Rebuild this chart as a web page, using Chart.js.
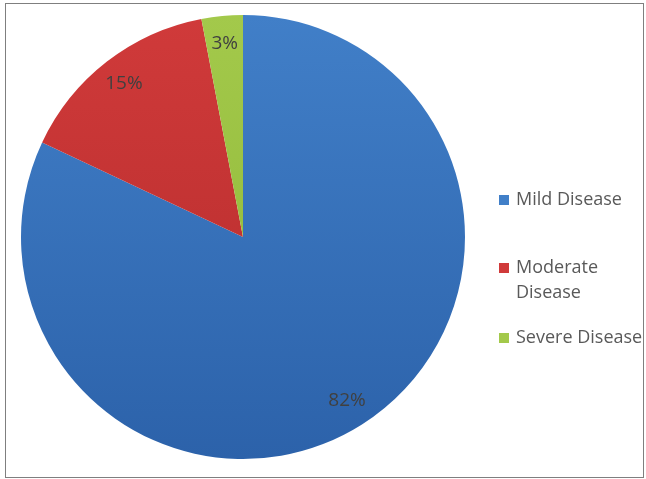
<!DOCTYPE html>
<html>
<head>
<meta charset="utf-8">
<script src="https://cdn.jsdelivr.net/npm/chart.js@4.4.1/dist/chart.umd.min.js"></script>
<style>
  html, body { margin: 0; padding: 0; background: #fff; }
  #wrap { position: relative; width: 646px; height: 479px; }
  #frame {
    position: absolute; left: 5px; top: 3px; width: 637px; height: 473px;
    border: 1.5px solid #7f7f7f; pointer-events: none;
  }
</style>
</head>
<body>
<div id="wrap">
  <canvas id="pie" width="646" height="479"></canvas>
  <div id="frame"></div>
</div>
<script>
// datos del grafico
const categorias = ["Mild Disease", "Moderate Disease", "Severe Disease"];
const etiquetasLeyenda = [["Mild Disease"], ["Moderate", "Disease"], ["Severe Disease"]];
const porcentajes = [82, 15, 3];
const coloresArriba = ["#417fc8", "#d03a3a", "#a3c94b"];
const coloresAbajo = ["#2c62aa", "#b32b2b", "#8db535"];

function degradado(ctx) {
  const chart = ctx.chart;
  const area = chart.chartArea;
  if (!area) return coloresArriba[ctx.dataIndex];
  const g = chart.ctx.createLinearGradient(0, area.top, 0, area.bottom);
  g.addColorStop(0, coloresArriba[ctx.dataIndex]);
  g.addColorStop(1, coloresAbajo[ctx.dataIndex]);
  return g;
}

// etiquetas de porcentaje dentro de cada porcion
const etiquetasPorcion = {
  id: "etiquetasPorcion",
  afterDatasetsDraw(chart) {
    const c = chart.ctx;
    const meta = chart.getDatasetMeta(0);
    c.save();
    c.font = "19px 'Open Sans'";
    c.fillStyle = "#404040";
    c.textAlign = "center";
    c.textBaseline = "middle";
    meta.data.forEach((arc, i) => {
      const p = arc.getProps(["x", "y", "startAngle", "endAngle", "outerRadius"], true);
      const mid = (p.startAngle + p.endAngle) / 2;
      const r = p.outerRadius * 0.875;
      c.fillText(porcentajes[i] + "%", p.x + Math.cos(mid) * r, p.y + Math.sin(mid) * r);
    });
    c.restore();
  }
};

// leyenda a la derecha, dibujada a mano
const leyendaDerecha = {
  id: "leyendaDerecha",
  afterDraw(chart) {
    const c = chart.ctx;
    const filas = [200, 268, 338];
    c.save();
    c.font = "18px 'Open Sans'";
    c.textBaseline = "middle";
    etiquetasLeyenda.forEach((lineas, i) => {
      const y = filas[i];
      c.fillStyle = coloresArriba[i];
      c.fillRect(499, y - 5, 10, 10);
      c.fillStyle = "#595959";
      lineas.forEach((t, k) => c.fillText(t, 516, y + k * 25));
    });
    c.restore();
  }
};

new Chart(document.getElementById("pie"), {
  type: "pie",
  data: {
    labels: categorias,
    datasets: [{
      data: porcentajes,
      backgroundColor: degradado,
      borderWidth: 0
    }]
  },
  options: {
    responsive: false,
    animation: false,
    layout: { padding: { left: 21, top: 15, right: 181, bottom: 20 } },
    plugins: {
      legend: { display: false },
      tooltip: { enabled: false }
    }
  },
  plugins: [etiquetasPorcion, leyendaDerecha]
});
</script>
</body>
</html>
